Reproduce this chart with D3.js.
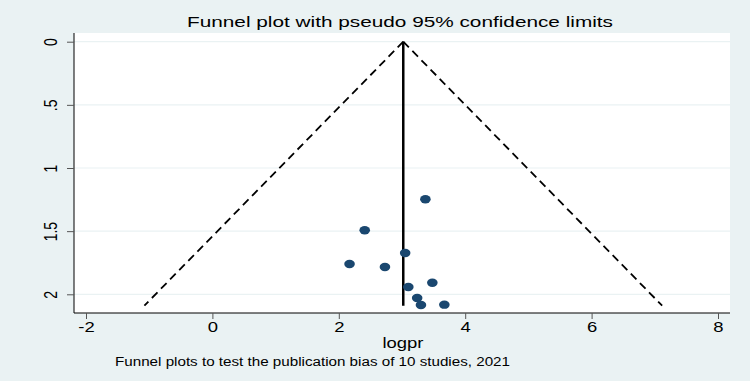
<!DOCTYPE html>
<html>
<head>
<meta charset="utf-8">
<script src="https://cdn.jsdelivr.net/npm/d3@7"></script>
<style>
  body { margin: 0; background: #eaf2f3; }
  svg { display: block; font-family: "Liberation Sans", Arial, sans-serif; }
</style>
</head>
<body>
<div id="chart"></div>
<script>
// study estimates (logpr) and their standard errors
const logpr = [3.37, 2.41, 3.05, 2.17, 2.73, 3.48, 3.10, 3.24, 3.30, 3.67];
const se = [1.248, 1.493, 1.673, 1.760, 1.784, 1.908, 1.942, 2.029, 2.085, 2.082];
const pooled = 3.02;
const seMax = 2.09;
const xTicks = [-2, 0, 2, 4, 6, 8];
const yTicks = [0, 0.5, 1, 1.5, 2];
const yTickLabels = ["0", ".5", "1", "1.5", "2"];

const width = 750, height = 381;
const plot = { left: 74, top: 33, right: 730, bottom: 313 };
const stretch = 1.32; // the original picture is widened horizontally

const svg = d3.select("#chart")
    .append("svg")
    .attr("width", width)
    .attr("height", height);

svg.append("rect")
    .attr("width", width).attr("height", height)
    .attr("fill", "#eaf2f3");

svg.append("rect")
    .attr("x", plot.left).attr("y", plot.top)
    .attr("width", plot.right - plot.left)
    .attr("height", plot.bottom - plot.top)
    .attr("fill", "#ffffff");

const x = d3.scaleLinear().domain([-2, 8]).range([86, 718]);
const y = d3.scaleLinear().domain([0, 2]).range([41.7, 294.3]);

// horizontal grid
svg.selectAll(".grid")
    .data(yTicks)
    .enter()
    .append("line")
    .attr("x1", plot.left).attr("x2", plot.right)
    .attr("y1", d => y(d)).attr("y2", d => y(d))
    .attr("stroke", "#eaf2f3")
    .attr("stroke-width", 1.2);

// funnel (pseudo 95% limits)
const funnelLeft = [[pooled, 0], [pooled - 1.96 * seMax, seMax]];
const funnelRight = [[pooled, 0], [pooled + 1.96 * seMax, seMax]];
const line = d3.line().x(d => x(d[0])).y(d => y(d[1]));

[funnelLeft, funnelRight].forEach(function(p) {
    svg.append("path")
        .attr("d", line(p))
        .attr("fill", "none")
        .attr("stroke", "#000")
        .attr("stroke-width", 1.8)
        .attr("stroke-dasharray", "8,5");
});

svg.append("path")
    .attr("d", line([[pooled, 0], [pooled, seMax]]))
    .attr("stroke", "#000")
    .attr("stroke-width", 2.5);

// studies
svg.selectAll(".pt")
    .data(logpr)
    .enter()
    .append("ellipse")
    .attr("cx", d => x(d))
    .attr("cy", (d, i) => y(se[i]))
    .attr("rx", 5.3)
    .attr("ry", 4.2)
    .attr("fill", "#1a476f");

// axes
const xAxis = svg.append("g")
    .attr("transform", "translate(0," + plot.bottom + ")")
    .call(d3.axisBottom(x).tickValues(xTicks).tickSize(6).tickPadding(3)
        .tickFormat(d3.format("d")));
xAxis.select(".domain").attr("d", "M" + plot.left + ",0H" + plot.right).attr("stroke", "#000");
xAxis.selectAll(".tick line").attr("stroke", "#555");
xAxis.selectAll("text").attr("font-size", 14).attr("fill", "#000")
    .attr("transform", "scale(" + stretch + ",1)")
    .text(d => d < 0 ? "-" + Math.abs(d) : d);

const yAxis = svg.append("g")
    .attr("transform", "translate(" + plot.left + ",0)")
    .call(d3.axisLeft(y).tickValues(yTicks).tickSize(7)
        .tickFormat((d, i) => yTickLabels[i]));
yAxis.select(".domain").attr("d", "M0," + plot.top + "V" + plot.bottom).attr("stroke", "#000");
yAxis.selectAll(".tick line").attr("stroke", "#555");
yAxis.selectAll("text")
    .attr("font-size", 14).attr("fill", "#000")
    .attr("x", 0).attr("dy", 0)
    .attr("text-anchor", "middle")
    .attr("transform", "translate(-17,0) scale(" + stretch + ",1) rotate(-90)");

svg.append("text")
    .attr("x", 400).attr("y", 27)
    .attr("text-anchor", "middle")
    .attr("font-size", 15)
    .attr("textLength", 426)
    .attr("lengthAdjust", "spacingAndGlyphs")
    .text("Funnel plot with pseudo 95% confidence limits");

svg.append("text")
    .attr("x", 403).attr("y", 348)
    .attr("text-anchor", "middle")
    .attr("font-size", 15)
    .attr("textLength", 41)
    .attr("lengthAdjust", "spacingAndGlyphs")
    .text("logpr");

svg.append("text")
    .attr("x", 115).attr("y", 366)
    .attr("font-size", 12)
    .attr("textLength", 395)
    .attr("lengthAdjust", "spacingAndGlyphs")
    .text("Funnel plots to test the publication bias of 10 studies, 2021");
</script>
</body>
</html>
